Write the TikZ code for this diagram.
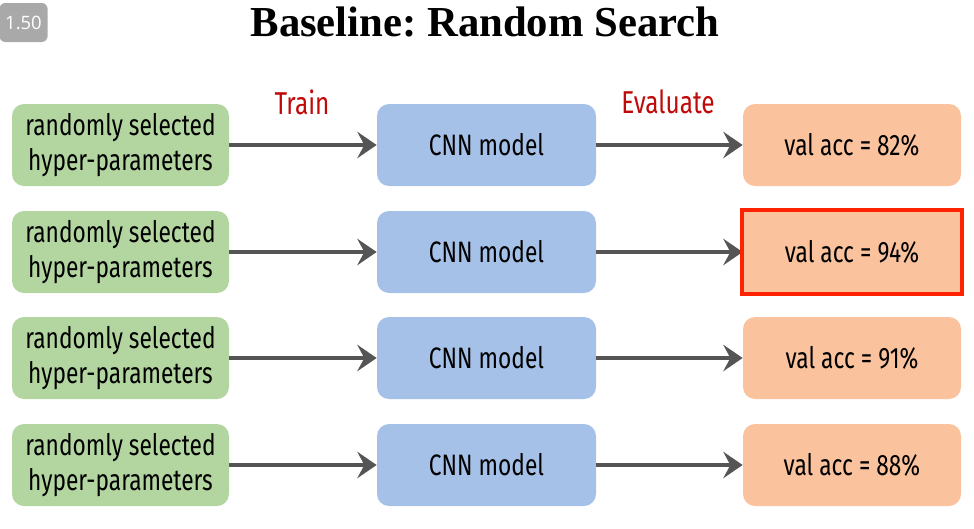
\documentclass[tikz,border=0pt]{standalone}
\usepackage{fontspec}
\setmainfont{Liberation Serif}
\newfontfamily\boxfont[FakeStretch=0.77]{Fira Sans}
\newfontfamily\badgefont{Open Sans}
\usetikzlibrary{arrows.meta}
\definecolor{hypgreen}{HTML}{B3D6A1}
\definecolor{cnnblue}{HTML}{A6C1E8}
\definecolor{accorange}{HTML}{FAC39E}
\definecolor{arrowgray}{HTML}{555555}
\definecolor{labelred}{HTML}{C00A0A}
\definecolor{framered}{HTML}{FF2200}
\definecolor{badgegray}{HTML}{A9A9A9}
\tikzset{
  hypbox/.style={minimum width=4.34cm,minimum height=1.64cm,rounded corners=0.24cm,fill=hypgreen,align=center,font=\boxfont\fontsize{16.8}{19.8}\selectfont},
  cnnbox/.style={minimum width=4.38cm,minimum height=1.64cm,rounded corners=0.24cm,fill=cnnblue,font=\boxfont\fontsize{16.8}{19.8}\selectfont},
  accbox/.style={minimum width=4.36cm,minimum height=1.64cm,rounded corners=0.24cm,fill=accorange,font=\boxfont\fontsize{16.8}{19.8}\selectfont},
  steplabel/.style={text=labelred,font=\boxfont\fontsize{18}{20}\selectfont},
  flow/.style={draw=arrowgray,line width=2.3pt,-{Stealth[length=11pt,width=15pt,inset=4pt]}}
}
\begin{document}
\begin{tikzpicture}
\useasboundingbox (0,0) rectangle (19.48,-10.56);
\draw (0.47,-0.45) node[minimum width=0.82cm,minimum height=0.78cm,rounded corners=0.12cm,fill=badgegray,text=white,font=\badgefont\fontsize{10.5}{12}\selectfont](badge) {1.50};
\draw (9.70,-0.44) node[font=\bfseries\fontsize{24.3}{28}\selectfont](title) {Baseline:\ Random Search};
\draw (6.04,-2.04) node[steplabel](train) {Train};
\draw (13.36,-2.04) node[steplabel](evaluate) {Evaluate};
% row 1
\draw (2.41,-2.90) node[hypbox](hypone) {randomly selected\\hyper-parameters};
\draw (9.73,-2.90) node[cnnbox](cnnone) {CNN model};
\draw (17.04,-2.90) node[accbox](accone) {val acc = 82\%};
% row 2
\draw (2.41,-5.04) node[hypbox](hyptwo) {randomly selected\\hyper-parameters};
\draw (9.73,-5.04) node[cnnbox](cnntwo) {CNN model};
\draw (17.04,-5.04) node[accbox,rounded corners=0pt](acctwo) {val acc = 94\%};
% row 3
\draw (2.41,-7.16) node[hypbox](hypthree) {randomly selected\\hyper-parameters};
\draw (9.73,-7.16) node[cnnbox](cnnthree) {CNN model};
\draw (17.04,-7.16) node[accbox](accthree) {val acc = 91\%};
% row 4
\draw (2.41,-9.30) node[hypbox](hypfour) {randomly selected\\hyper-parameters};
\draw (9.73,-9.30) node[cnnbox](cnnfour) {CNN model};
\draw (17.04,-9.30) node[accbox](accfour) {val acc = 88\%};
\draw[flow] (hypone) -- (cnnone);
\draw[flow] (cnnone) -- (accone);
\draw[flow] (hyptwo) -- (cnntwo);
\draw[flow] (cnntwo) -- (acctwo);
\draw[flow] (hypthree) -- (cnnthree);
\draw[flow] (cnnthree) -- (accthree);
\draw[flow] (hypfour) -- (cnnfour);
\draw[flow] (cnnfour) -- (accfour);
\draw[framered,line width=2.3pt] ([shift={(-0.02,0.02)}]acctwo.north west) rectangle ([shift={(0.02,-0.02)}]acctwo.south east);
\end{tikzpicture}
\end{document}
